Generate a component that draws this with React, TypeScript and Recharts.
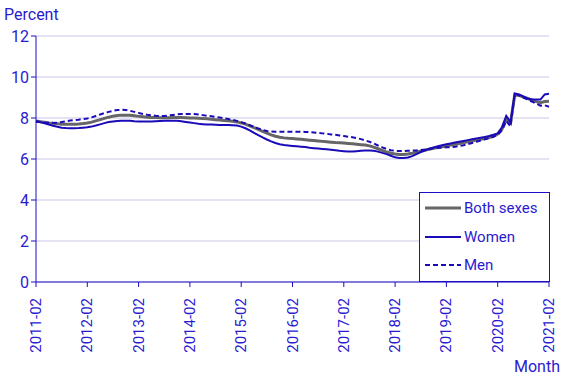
import { LineChart, Line, XAxis, YAxis, CartesianGrid } from 'recharts';

// monthly unemployment-style rates, 2011-02 .. 2021-02
const START_YEAR = 2011;
const MONTH_COUNT = 121;

const bothSexes = [
  7.85, 7.82, 7.79, 7.76, 7.74, 7.72, 7.70, 7.69, 7.69, 7.70, 7.71, 7.73,
  7.76, 7.80, 7.86, 7.92, 7.98, 8.04, 8.09, 8.12, 8.14, 8.14, 8.13, 8.11,
  8.08, 8.06, 8.04, 8.03, 8.02, 8.01, 8.01, 8.01, 8.02, 8.02, 8.02, 8.01,
  8.00, 8.00, 7.99, 7.98, 7.96, 7.94, 7.92, 7.90, 7.88, 7.86, 7.84, 7.81,
  7.76, 7.70, 7.62, 7.53, 7.44, 7.35, 7.26, 7.18, 7.11, 7.06, 7.03, 7.01,
  7.00, 6.98, 6.96, 6.94, 6.92, 6.90, 6.88, 6.86, 6.84, 6.82, 6.80, 6.79,
  6.78, 6.76, 6.74, 6.72, 6.70, 6.68, 6.64, 6.58, 6.50, 6.42, 6.34, 6.28,
  6.24, 6.22, 6.22, 6.24, 6.28, 6.33, 6.38, 6.43, 6.48, 6.52, 6.56, 6.60,
  6.64, 6.68, 6.72, 6.76, 6.80, 6.84, 6.88, 6.92, 6.96, 7.00, 7.05, 7.12,
  7.22, 7.45, 7.95, 7.75, 9.15, 9.10, 9.02, 8.95, 8.88, 8.80, 8.75, 8.80,
  8.82,
];

const women = [
  7.85, 7.80, 7.74, 7.68, 7.62, 7.57, 7.53, 7.51, 7.50, 7.50, 7.51, 7.53,
  7.55, 7.58, 7.63, 7.69, 7.75, 7.80, 7.83, 7.85, 7.87, 7.87, 7.86, 7.84,
  7.83, 7.83, 7.83, 7.83, 7.84, 7.85, 7.86, 7.87, 7.87, 7.86, 7.84, 7.81,
  7.78, 7.75, 7.72, 7.70, 7.68, 7.68, 7.67, 7.66, 7.66, 7.66, 7.65, 7.63,
  7.58, 7.50, 7.40, 7.28, 7.16, 7.05, 6.95, 6.86, 6.78, 6.72, 6.68, 6.66,
  6.64, 6.62, 6.60, 6.58, 6.55, 6.53, 6.51, 6.49, 6.47, 6.45, 6.43, 6.40,
  6.38, 6.36, 6.36, 6.38, 6.40, 6.42, 6.42, 6.40, 6.36, 6.30, 6.24, 6.16,
  6.08, 6.05, 6.05, 6.07, 6.14, 6.24, 6.34, 6.42, 6.50, 6.56, 6.62, 6.67,
  6.72, 6.76, 6.80, 6.84, 6.88, 6.92, 6.96, 7.00, 7.04, 7.08, 7.12, 7.18,
  7.25, 7.55, 8.10, 7.80, 9.20, 9.15, 9.05, 8.95, 8.90, 8.90, 8.90, 9.15,
  9.18,
];

const men = [
  7.82, 7.80, 7.78, 7.77, 7.76, 7.77, 7.80, 7.84, 7.88, 7.90, 7.92, 7.95,
  7.98, 8.03, 8.10, 8.17, 8.24, 8.30, 8.35, 8.39, 8.40, 8.39, 8.35, 8.30,
  8.25, 8.20, 8.16, 8.13, 8.11, 8.10, 8.10, 8.12, 8.15, 8.18, 8.19, 8.20,
  8.20, 8.19, 8.17, 8.14, 8.11, 8.08, 8.05, 8.02, 7.98, 7.95, 7.91, 7.86,
  7.80, 7.73, 7.65, 7.57, 7.49, 7.42, 7.37, 7.34, 7.33, 7.33, 7.33, 7.33,
  7.33, 7.33, 7.33, 7.32, 7.31, 7.29, 7.27, 7.25, 7.23, 7.20, 7.18, 7.15,
  7.12, 7.09, 7.06, 7.02, 6.97, 6.91, 6.84, 6.76, 6.66, 6.57, 6.49, 6.43,
  6.40, 6.39, 6.39, 6.40, 6.41, 6.42, 6.44, 6.46, 6.49, 6.52, 6.54, 6.56,
  6.57, 6.58, 6.60, 6.63, 6.67, 6.72, 6.78, 6.84, 6.90, 6.96, 7.02, 7.08,
  7.18, 7.40, 7.85, 7.60, 9.20, 9.10, 9.00, 8.90, 8.80, 8.70, 8.60, 8.62,
  8.55,
];

const yTicks = [0, 2, 4, 6, 8, 10, 12];

const TEXT = '#2a1ad0';
const AXIS = '#1c0fc4';
const BLUE = '#1a0ab8';
const GRAY = '#666666';
const GRID = '#cbc6e6';
const FONT = 'Roboto, Arial, sans-serif';

const months: string[] = [];
for (let i = 0; i < MONTH_COUNT; i++) {
  const m = i + 1; // Feb = index 1
  const y = START_YEAR + Math.floor(m / 12);
  months.push(`${y}-${String((m % 12) + 1).padStart(2, '0')}`);
}

const data = months.map((month, i) => ({
  month,
  both: bothSexes[i],
  women: women[i],
  men: men[i],
}));

const legendItems = [
  { label: 'Both sexes', color: GRAY, width: 3, dash: undefined },
  { label: 'Women', color: BLUE, width: 2, dash: undefined },
  { label: 'Men', color: BLUE, width: 2, dash: '5 3' },
];

function MonthTick({ x, y, payload }: any) {
  return (
    <text
      x={x}
      y={y + 9}
      transform={`rotate(-90, ${x}, ${y + 9})`}
      textAnchor="end"
      dominantBaseline="central"
      fill={TEXT}
      fontSize={15}
      fontFamily={FONT}
    >
      {payload.value}
    </text>
  );
}

// drawn over the chart so it takes no space from the plot
function LegendBox() {
  return (
    <div
      style={{
        position: 'absolute',
        left: 419,
        top: 192,
        width: 129,
        height: 87,
        border: `1px solid ${AXIS}`,
        background: '#fff',
        fontFamily: FONT,
        fontSize: 15,
        color: TEXT,
        paddingTop: 1,
        boxSizing: 'content-box',
      }}
    >
      {legendItems.map((item) => (
        <div key={item.label} style={{ display: 'flex', alignItems: 'center', height: 28.5, paddingLeft: 5 }}>
          <svg width={37} height={10} style={{ marginRight: 2 }}>
            <line
              x1={0}
              y1={5}
              x2={36}
              y2={5}
              stroke={item.color}
              strokeWidth={item.width}
              strokeDasharray={item.dash}
            />
          </svg>
          <span>{item.label}</span>
        </div>
      ))}
    </div>
  );
}

export default function App() {
  return (
    <div style={{ position: 'absolute', left: 0, top: 0, width: 567, height: 378, background: '#fff' }}>
      <LineChart width={567} height={378} data={data} margin={{ top: 36, right: 18, bottom: 0, left: 0 }}>
        <CartesianGrid vertical={false} stroke={GRID} />
        <XAxis
          dataKey="month"
          interval={11}
          height={96}
          tick={<MonthTick />}
          tickSize={5}
          axisLine={{ stroke: AXIS }}
          tickLine={{ stroke: AXIS }}
        />
        <YAxis
          width={36}
          domain={[0, 12]}
          ticks={yTicks}
          tickSize={5}
          axisLine={{ stroke: AXIS }}
          tickLine={{ stroke: AXIS }}
          tick={{ fill: TEXT, fontSize: 16, fontFamily: FONT }}
        />
        <Line type="linear" dataKey="both" stroke={GRAY} strokeWidth={3} dot={false} isAnimationActive={false} />
        <Line type="linear" dataKey="women" stroke={BLUE} strokeWidth={2} dot={false} isAnimationActive={false} />
        <Line
          type="linear"
          dataKey="men"
          stroke={BLUE}
          strokeWidth={2}
          strokeDasharray="5 3"
          dot={false}
          isAnimationActive={false}
        />
        <text x={4} y={20} fill={TEXT} fontSize={16} fontFamily={FONT}>
          Percent
        </text>
        <text x={560} y={372} textAnchor="end" fill={TEXT} fontSize={16} fontFamily={FONT}>
          Month
        </text>
      </LineChart>
      <LegendBox />
    </div>
  );
}
